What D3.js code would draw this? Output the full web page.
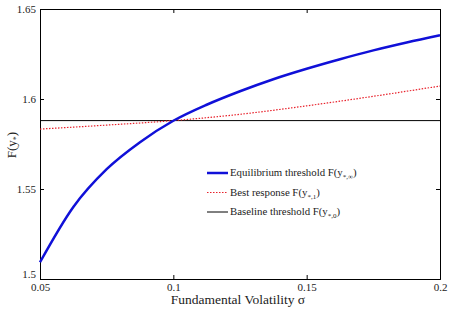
<!DOCTYPE html>
<html>
<head>
<meta charset="utf-8">
<script src="https://cdn.jsdelivr.net/npm/d3@7"></script>
<style>
body { margin: 0; background: #fff; }
text { font-family: "Liberation Serif", "DejaVu Serif", serif; }
</style>
</head>
<body>
<svg id="chart" width="451" height="310"></svg>
<script>
// values
var sigma = [0.05, 0.0625, 0.075, 0.0875, 0.1, 0.1125, 0.125, 0.1375, 0.15, 0.1625, 0.175, 0.1875, 0.2]
var equilibrium = [1.5093, 1.5400, 1.5610, 1.5760, 1.5879, 1.5968, 1.6043, 1.6110, 1.6168, 1.6221, 1.6270, 1.6314, 1.6354]
var sigmaBest = [0.05, 0.075, 0.1, 0.125, 0.15, 0.175, 0.2]
var bestResponse = [1.5833, 1.5855, 1.5880, 1.5915, 1.5962, 1.6015, 1.6072]
var sigmaBase = [0.05, 0.2]
var baseline = [1.588, 1.588]
var xTicks = [0.05, 0.1, 0.15, 0.2]
var yTicks = [1.5, 1.55, 1.6, 1.65]

var svg = d3.select("#chart")
var padL = 40, padR = 440, padT = 9, padB = 279

var x = d3.scaleLinear().domain([0.05, 0.2]).range([padL, padR])
var y = d3.scaleLinear().domain([1.5, 1.65]).range([padB, padT])

// axes, ticks pointing inwards on all four sides
var fmt = function(d){ return String(+d.toFixed(2)) }
svg.append("g").attr("transform", "translate(0," + padB + ")")
  .call(d3.axisBottom(x).tickValues(xTicks).tickSize(-4).tickPadding(4).tickFormat(fmt))
svg.append("g").attr("transform", "translate(0," + padT + ")")
  .call(d3.axisTop(x).tickValues(xTicks).tickSize(-4).tickFormat(""))
var yAxis = svg.append("g").attr("transform", "translate(" + padL + ",0)")
  .call(d3.axisLeft(y).tickValues(yTicks).tickSize(-4).tickPadding(4).tickFormat(fmt))
svg.append("g").attr("transform", "translate(" + padR + ",0)")
  .call(d3.axisRight(y).tickValues(yTicks).tickSize(-4).tickFormat(""))

svg.selectAll(".domain").attr("stroke", "#000")
svg.selectAll(".tick line").attr("stroke", "#000")
svg.selectAll(".tick text").attr("font-family", "Liberation Serif").attr("font-size", 11).attr("fill", "#222")
// lowest y label sits just above the 0.05 label, like the original
yAxis.selectAll(".tick text").filter(function(d){ return d === 1.5 }).attr("dy", "-0.1em")

var line = d3.line().x(function(d){ return x(d[0]) }).y(function(d){ return y(d[1]) }).curve(d3.curveMonotoneX)

svg.append("path").datum(d3.zip(sigmaBase, baseline))
  .attr("d", line).attr("fill", "none").attr("stroke", "#000").attr("stroke-width", 1)
svg.append("path").datum(d3.zip(sigmaBest, bestResponse))
  .attr("d", line).attr("fill", "none").attr("stroke", "#e8212b").attr("stroke-width", 1.2).attr("stroke-dasharray", "1.5,1.5")
svg.append("path").datum(d3.zip(sigma, equilibrium))
  .attr("d", line).attr("fill", "none").attr("stroke", "#1010d8").attr("stroke-width", 2.5)

// axis labels
svg.append("text").attr("x", 238).attr("y", 304).attr("text-anchor", "middle")
  .attr("font-size", 13.5).attr("fill", "#222").text("Fundamental Volatility  σ")

var yl = svg.append("text").attr("transform", "translate(16,145) rotate(-90)")
  .attr("text-anchor", "middle").attr("font-size", 13).attr("fill", "#222")
yl.append("tspan").text("F(y")
yl.append("tspan").attr("font-size", 8).attr("dy", 3).text("*")
yl.append("tspan").attr("dy", -3).text(")")

// legend
var legend = [
  {label: "Equilibrium threshold F(y", sub: "*,∞", color: "#1010d8", width: 2.5, dash: null},
  {label: "Best response F(y", sub: "*,1", color: "#e8212b", width: 1.2, dash: "1.5,1.5"},
  {label: "Baseline threshold F(y", sub: "*,0", color: "#000", width: 1, dash: null}
]
var lg = svg.append("g").selectAll("g").data(legend).enter().append("g")
  .attr("transform", function(d, i){ return "translate(207," + (173 + i * 19.5) + ")" })
lg.append("line").attr("x1", 0).attr("x2", 21).attr("y1", 0).attr("y2", 0)
  .attr("stroke", function(d){ return d.color }).attr("stroke-width", function(d){ return d.width })
  .attr("stroke-dasharray", function(d){ return d.dash })
var lt = lg.append("text").attr("x", 23).attr("y", 3).attr("font-size", 10.8).attr("fill", "#222")
lt.append("tspan").text(function(d){ return d.label })
lt.append("tspan").attr("font-size", 7).attr("dy", 3).text(function(d){ return d.sub })
lt.append("tspan").attr("dy", -3).text(")")
</script>
</body>
</html>
